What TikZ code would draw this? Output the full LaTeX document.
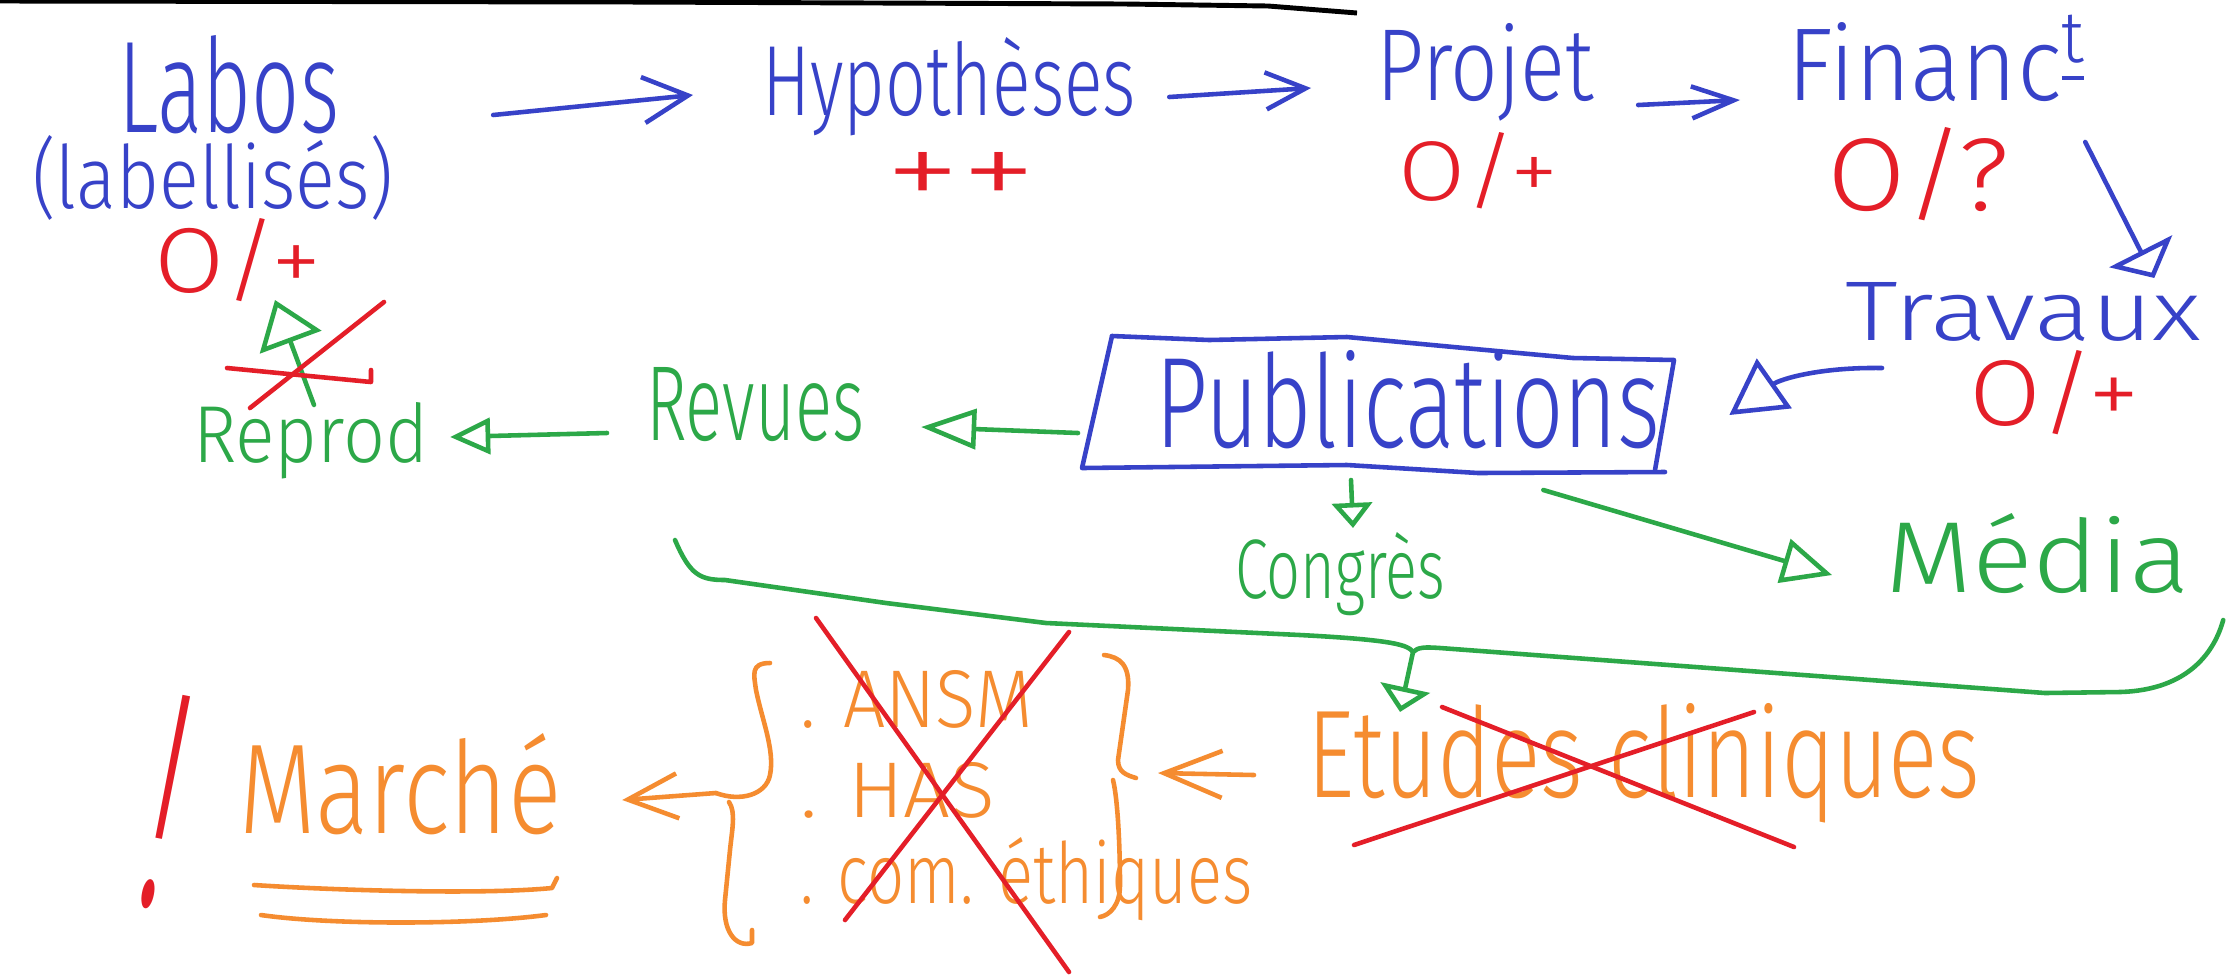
\documentclass[tikz,border=0pt]{standalone}
\usepackage{fontspec}
\setmainfont{Fira Sans Light}
\usepackage{graphicx}
\usetikzlibrary{arrows.meta,calc}
\definecolor{hwblue}{RGB}{55,66,200}
\definecolor{hwred}{RGB}{228,30,40}
\definecolor{hwgreen}{RGB}{44,168,72}
\definecolor{hworange}{RGB}{245,140,48}
\newcommand\hw[3]{\resizebox{#1cm}{#2cm}{#3}}
\tikzset{
  ink/.style={line width=1.3pt, line cap=round, line join=round},
  bl/.style={ink, draw=hwblue},
  rd/.style={ink, draw=hwred},
  gr/.style={ink, draw=hwgreen},
  og/.style={ink, draw=hworange},
  lbl/.style={anchor=base west, inner sep=0pt, outer sep=0pt},
  lblc/.style={anchor=center, inner sep=0pt, outer sep=0pt},
}
\begin{document}
\begin{tikzpicture}[x=0.01cm, y=-0.01cm]
\useasboundingbox (0,0) rectangle (2240,978);
\fill[white] (0,0) rectangle (2240,978);
% top black line
\draw[line width=1.4pt, black] (0,1) -- (625,2) -- (1125,4) -- (1268,6) -- (1357,13);

% ---------- nodes ----------
\node[lbl, text=hwblue] (labos) at (118,132) {\hw{2.21}{0.97}{Labos}};
\node[lbl, text=hwblue] (labell) at (32,208) {\hw{3.61}{0.73}{(labellisés)}};
\node[lbl, text=hwred] (o1) at (154,292) {\hw{1.67}{0.74}{O/+}};
\node[lbl, text=hwblue] (hyp) at (762,115) {\hw{3.74}{0.78}{Hypothèses}};
\node[lblc, text=hwred] (pp) at (961,180) {\hw{1.50}{0.55}{++}};
\node[lbl, text=hwblue] (projet) at (1376,100) {\hw{2.18}{0.77}{Projet}};
\node[lbl, text=hwred] (o2) at (1398,200) {\hw{1.60}{0.68}{O/+}};
\node[lbl, text=hwblue] (financ) at (1787,100) {\hw{3.02}{0.85}{Financ\textsuperscript{\underline{t}}}};
\node[lbl, text=hwred] (o3) at (1827,210) {\hw{1.82}{0.83}{O/?}};
\node[lbl, text=hwblue] (travaux) at (1845,340) {\hw{3.56}{0.58}{Travaux}};
\node[lbl, text=hwred] (o4) at (1969,425) {\hw{1.71}{0.75}{O/+}};
\node[lbl, text=hwblue] (pub) at (1155,447) {\hw{5.05}{0.97}{Publications}};
\node[lbl, text=hwgreen] (revues) at (646,440) {\hw{2.18}{0.73}{Revues}};
\node[lbl, text=hwgreen] (reprod) at (193,462) {\hw{2.35}{0.60}{Reprod}};
\node[lbl, text=hwgreen] (congres) at (1235,598) {\hw{2.10}{0.66}{Congrès}};
\node[lbl, text=hwgreen] (media) at (1885,592) {\hw{3.05}{0.79}{Média}};
\node[lbl, text=hworange] (etudes) at (1307,797) {\hw{6.73}{0.94}{Etudes cliniques}};
\node[lbl, text=hworange] (ansm) at (800,727) {\hw{2.33}{0.57}{. ANSM}};
\node[lbl, text=hworange] (has) at (800,817) {\hw{1.95}{0.55}{. HAS}};
\node[lbl, text=hworange] (com) at (800,903) {\hw{4.52}{0.66}{. com. éthiques}};
\node[lbl, text=hworange] (marche) at (239,833) {\hw{3.22}{1.00}{Marché}};
\node[anchor=base, inner sep=0pt, outer sep=0pt, rotate=-11, text=hwred] (excl) at (146,905) {\hw{0.30}{2.13}{!}};

% ---------- Publications box ----------
\draw[bl] (1112,336) -- (1209,340) -- (1347,337) -- (1464,348) -- (1573,358) -- (1674,360) -- (1655,470);
\draw[bl] (1112,336) -- (1082,468) -- (1347,465) -- (1478,473) -- (1665,472);

% ---------- blue arrows ----------
\draw[bl, -{Straight Barb[length=4.5mm,width=4.6mm]}] ($(labos.base east)+(154,-17)$) -- ($(hyp.base west)+(-69,-20)$);
\draw[bl, -{Straight Barb[length=4mm,width=3.7mm]}] ($(hyp.base east)+(33,-18)$) -- ($(projet.base west)+(-65,-12)$);
\draw[bl, -{Straight Barb[length=4.2mm,width=3.2mm]}] ($(projet.base east)+(44,5)$) -- ($(financ.base west)+(-47,0)$);
\draw[bl, -{Triangle[open,length=3mm,width=7mm]}] ($(financ.base east)+(-4,42)$) -- ($(travaux.north east)+(-47,-4)$);
\draw[bl, -{Triangle[open,length=5.5mm,width=6mm]}] ($(travaux.base west)+(37,28)$) to[bend right=18] ($(pub.base east)+(69,-32)$);

% ---------- green arrows ----------
\draw[gr, -{Triangle[open,length=5.5mm,width=4mm]}] ($(pub.base west)+(-77,-14)$) -- ($(revues.base east)+(57,-13)$);
\draw[gr, -{Triangle[open,length=4mm,width=3.6mm]}] ($(revues.base west)+(-39,-7)$) -- ($(reprod.base east)+(22,-25)$);
\draw[gr, -{Triangle[open,length=4.5mm,width=6.5mm]}] ($(reprod.north west)+(121,3)$) -- ($(o1.base west)+(121,8)$);
\draw[gr, -{Triangle[open,length=2.5mm,width=4mm]}] ($(pub.base west)+(196,33)$) -- ($(congres.north west)+(118,-4)$);
\draw[gr, -{Triangle[open,length=5mm,width=4.5mm]}] ($(pub.base east)+(-117,43)$) -- ($(media.base west)+(-53,-17)$);

% green brace towards Etudes cliniques
\coordinate (cusp) at (1413,652);
\draw[gr] ($(revues.base west)+(29,100)$) .. controls (690,575) and (700,580) .. (725,580)
  -- (886,603) -- (1046,623) -- (1300,635) .. controls (1395,640) and (1408,645) .. (cusp)
  .. controls (1418,647) and (1425,647) .. (1440,648) -- (2045,693) -- (2120,692)
  .. controls (2190,690) and (2215,650) .. ($(media.base east)+(33,28)$);
\draw[gr, -{Triangle[open,length=2.5mm,width=5mm]}] (cusp) -- ($(etudes.north west)+(93,9)$);

% red strike over the green arrow
\draw[rd] (227,368) -- (371,382) -- (371,370);
\draw[rd] (250,408) -- (384,302);

% ---------- orange braces and arrows ----------
\coordinate (lb) at (716,793);
\coordinate (rb) at (1136,778);
\draw[og] (770,663) .. controls (750,663) and (754,675) .. (756,690)
  .. controls (762,720) and (775,750) .. (770,775) .. controls (766,795) and (740,802) .. (lb);
\draw[og] (729,802) .. controls (736,812) and (732,830) .. (730,850) -- (725,900)
  .. controls (722,930) and (735,948) .. (752,943) -- (752,930);
\draw[og] (1104,655) .. controls (1120,657) and (1130,665) .. (1128,690) -- (1118,760)
  .. controls (1118,772) and (1126,775) .. (rb);
\draw[og] (1113,780) .. controls (1118,800) and (1120,850) .. (1120,885)
  .. controls (1120,905) and (1110,915) .. (1100,917);
\draw[og, -{Straight Barb[length=5.8mm,width=4.7mm]}] ($(etudes.base west)+(-53,-22)$) -- ($(rb)+(22,-5)$);
\draw[og, -{Straight Barb[length=5mm,width=4.5mm]}] (lb) -- ($(marche.base east)+(61,-33)$);

% double underline of Marché
\draw[og] (254,885) .. controls (330,890) and (480,895) .. (552,888) -- (557,878);
\draw[og] (261,915) .. controls (330,925) and (470,925) .. (546,915);

% red crosses
\draw[rd] (816,618) -- (1069,972);
\draw[rd] (1069,632) -- (845,920);
\draw[rd] (1442,707) -- (1794,847);
\draw[rd] (1754,712) -- (1354,845);
\end{tikzpicture}
\end{document}
